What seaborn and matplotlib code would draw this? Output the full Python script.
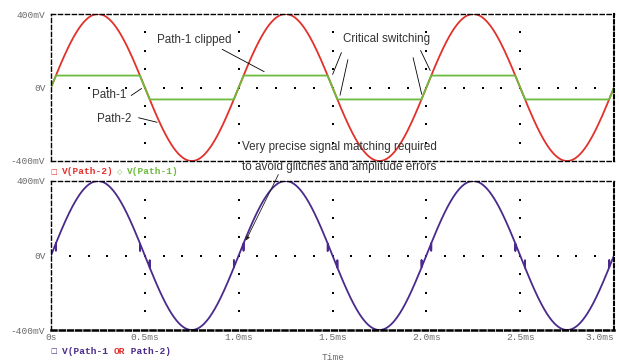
import numpy as np
import pandas as pd
import matplotlib
matplotlib.use("Agg")
import matplotlib.pyplot as plt
import seaborn as sns

# Waveform parameters (time in ms, voltage in mV)
amplitude_mv = 400
period_ms = 1.0
clip_mv = 65
glitch_mv = 40
span_ms = 3.0

x_ticks_ms = [0, 0.5, 1.0, 1.5, 2.0, 2.5, 3.0]
x_tick_labels = ["0s", "0.5ms", "1.0ms", "1.5ms", "2.0ms", "2.5ms", "3.0ms"]
y_ticks_mv = [-400, 0, 400]
y_tick_labels = ["-400mV", "0V", "400mV"]

red = "#e2312b"
green = "#6cbb3c"
purple = "#4a2a8c"
mono = "Liberation Mono"
sans = "Liberation Sans"

sns.set_style("white")

t = np.linspace(0, span_ms, 6001)
path2 = amplitude_mv * np.sin(2 * np.pi * t / period_ms)
path1 = np.clip(path2, -clip_mv, clip_mv)

# Combined output: follows the sine, with a short glitch at every switch-over
above = np.abs(path2) > clip_mv
switch_idx = set(np.where(above[1:] != above[:-1])[0] + 1)
or_t, or_v = [], []
for i, (ti, vi) in enumerate(zip(t, path2)):
    or_t.append(ti)
    or_v.append(vi)
    if i in switch_idx:
        or_t.append(ti)
        or_v.append(vi - np.sign(vi) * glitch_mv)
df_top = pd.DataFrame({"t": t, "path2": path2, "path1": path1})
df_or = pd.DataFrame({"t": or_t, "v": or_v})

W, H = 619, 361
fig = plt.figure(figsize=(W / 100, H / 100), dpi=100)
fig.patch.set_facecolor("white")


def px(x0, y0, x1, y1):
    return [x0 / W, 1 - y1 / H, (x1 - x0) / W, (y1 - y0) / H]


ax1 = fig.add_axes(px(51, 14, 614, 161))
ax2 = fig.add_axes(px(51, 181, 614, 330))

sns.lineplot(data=df_top, x="t", y="path2", ax=ax1, color=red, lw=1.3,
             estimator=None, sort=False)
sns.lineplot(data=df_top, x="t", y="path1", ax=ax1, color=green, lw=1.3,
             estimator=None, sort=False)
sns.lineplot(data=df_or, x="t", y="v", ax=ax2, color=purple, lw=1.3,
             estimator=None, sort=False)

dot_x = np.arange(0.1, span_ms - 0.05, 0.1)
dot_y = np.arange(-300, 301, 100)
for ax in (ax1, ax2):
    ax.set_xlim(0, span_ms)
    ax.set_ylim(-amplitude_mv, amplitude_mv)
    ax.set_xlabel("")
    ax.set_ylabel("")
    ax.set_facecolor("white")
    # dotted grid: points along 0V and along each 0.5ms division
    ax.scatter(dot_x, np.zeros_like(dot_x), s=1.6, marker="s", color="black",
               linewidths=0, zorder=1)
    for xv in x_ticks_ms[1:-1]:
        ax.scatter(np.full_like(dot_y, xv, dtype=float), dot_y, s=1.6, marker="s",
                   color="black", linewidths=0, zorder=1)
    for side in ("top", "bottom", "left"):
        ax.spines[side].set_linestyle((0, (3, 2)))
        ax.spines[side].set_linewidth(1.0)
        ax.spines[side].set_color("black")
    ax.spines["right"].set_linestyle((0, (1.6, 1.4)))
    ax.spines["right"].set_linewidth(1.5)
    ax.spines["right"].set_color("black")
    ax.set_yticks(y_ticks_mv)
    ax.set_yticklabels(y_tick_labels, fontfamily=mono, fontsize=6.8, color="#6a6a6a")
    ax.tick_params(axis="y", direction="out", length=3, width=0.8, color="#555555", pad=1)

ax1.set_xticks(x_ticks_ms)
ax1.tick_params(axis="x", length=0, labelbottom=False)
ax2.set_xticks(x_ticks_ms)
ax2.set_xticklabels(x_tick_labels, fontfamily=mono, fontsize=6.8, color="#6a6a6a")
ax2.tick_params(axis="x", direction="in", length=3, width=0.8, color="black", pad=2)
ax2.get_xticklabels()[-1].set_horizontalalignment("right")
ax2.spines["bottom"].set_linewidth(1.8)
ax2.spines["bottom"].set_linestyle((0, (2, 1.3)))

# Annotations on the upper traces
ann = dict(fontfamily=sans, fontsize=8.4, color="#333333")
line_kw = dict(arrowprops=dict(arrowstyle="-", color="black", lw=0.6))
ax1.text(0.564, 258, "Path-1 clipped", va="center", ha="left", **ann)
ax1.annotate("", xy=(1.149, 79), xytext=(0.899, 215), **line_kw)
ax1.text(1.787, 264, "Critical switching", va="center", ha="center", **ann)
for (x0, y0), (x1, y1) in [((1.553, 204), (1.495, 57)),
                           ((1.585, 166), (1.537, -57)),
                           ((1.926, 177), (1.979, -52)),
                           ((1.963, 215), (2.027, 79))]:
    ax1.annotate("", xy=(x1, y1), xytext=(x0, y0), **line_kw)
ax1.text(0.404, -41, "Path-1", va="center", ha="right", **ann)
ax1.annotate("", xy=(0.495, 3), xytext=(0.415, -52), **line_kw)
ax1.text(0.244, -172, "Path-2", va="center", ha="left", **ann)
ax1.annotate("", xy=(0.580, -193), xytext=(0.452, -161), **line_kw)

# Note between the panels, pointing at a glitch
ax2.text(1.537, 583, "Very precise signal matching required", ha="center",
         va="center", clip_on=False, **ann)
ax2.text(1.537, 475, "to avoid glitches and amplitude errors", ha="center",
         va="center", clip_on=False, **ann)
ax2.annotate("", xy=(1.032, 67), xytext=(1.218, 448), annotation_clip=False,
             arrowprops=dict(arrowstyle="-|>", color="#222222", lw=0.6,
                             mutation_scale=6))

# Trace legends
leg_kw = dict(fontfamily=mono, fontsize=6.8, fontweight="bold", va="center")
mark_kw = dict(fontfamily="DejaVu Sans", fontsize=5, va="center", ha="center")
fig.text(54 / W, 1 - 172 / H, "□", color=red, **mark_kw)
fig.text(62 / W, 1 - 172 / H, "V(Path-2)", color=red, **leg_kw)
fig.text(120 / W, 1 - 172 / H, "◇", color=green, **mark_kw)
fig.text(127 / W, 1 - 172 / H, "V(Path-1)", color=green, **leg_kw)

fig.text(54 / W, 1 - 351 / H, "□", color=purple, **mark_kw)
t1 = fig.text(62 / W, 1 - 351 / H, "V(Path-1 ", color=purple, **leg_kw)
t2 = fig.text(0, 0, "OR", color=red, **leg_kw)
t3 = fig.text(0, 0, " Path-2)", color=purple, **leg_kw)
fig.canvas.draw()
r = fig.canvas.get_renderer()
bb1 = t1.get_window_extent(r)
t2.set_position(((bb1.x1) / W, 1 - 351 / H))
bb2 = t2.get_window_extent(r)
t3.set_position(((bb2.x1) / W, 1 - 351 / H))

fig.text(333 / W, 1 - 357 / H, "Time", fontfamily=mono, fontsize=6.8,
         color="#6a6a6a", ha="center", va="center")

fig.savefig("out.png", dpi=100, facecolor="white")
